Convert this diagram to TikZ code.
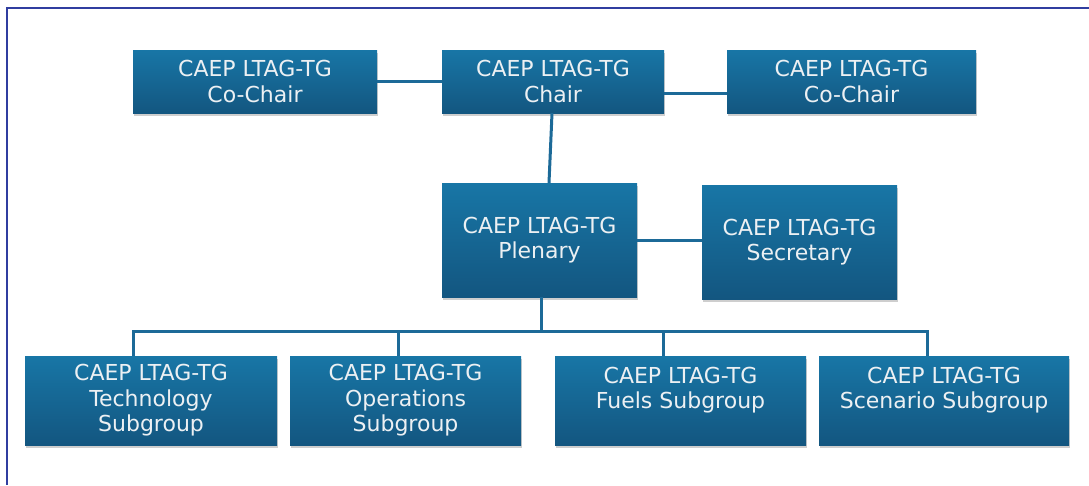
\documentclass[tikz,border=0pt]{standalone}
\usepackage{fontspec}
\setmainfont{DejaVu Sans}
\usepackage{tikz}
\usetikzlibrary{positioning}
\usetikzlibrary{shadows}
\definecolor{boxtop}{RGB}{24,118,166}
\definecolor{boxbottom}{RGB}{19,86,128}
\definecolor{boxtext}{RGB}{236,240,243}
\definecolor{linkcol}{RGB}{28,106,152}
\definecolor{framecol}{RGB}{48,62,160}
\tikzset{unit/.style = {rectangle, top color=boxtop, bottom color=boxbottom,
                        text=boxtext, align=center, inner sep=0pt,
                        font=\fontsize{22}{25.5}\selectfont,
                        drop shadow={shadow xshift=1pt, shadow yshift=-2.5pt,
                                     opacity=0.35, fill=black!55}},
         link/.style = {draw=linkcol, line width=3pt}}

\begin{document}
\begin{tikzpicture}[x=1pt, y=-1pt]
      \useasboundingbox (0, 0) rectangle (1089, 485);
      \draw [framecol, line width=2pt] (6.5, 485) -- (6.5, 7.5) -- (1089, 7.5);
      % top row
      \node [unit, minimum width=244pt, minimum height=63pt] (cochairL) at (255, 81.5) {CAEP LTAG-TG\\Co-Chair};
      \node [unit, minimum width=222pt, minimum height=63pt] (chair) at (553, 81.5) {CAEP LTAG-TG\\Chair};
      \node [unit, minimum width=249pt, minimum height=63pt] (cochairR) at (851.5, 81.5) {CAEP LTAG-TG\\Co-Chair};
      % middle row
      \node [unit, minimum width=195pt, minimum height=114pt] (plenary) at (539.5, 240) {CAEP LTAG-TG\\Plenary};
      \node [unit, minimum width=195pt, minimum height=114pt] (secretary) at (799.5, 242) {CAEP LTAG-TG\\Secretary};
      % subgroups
      \node [unit, minimum width=252pt, minimum height=89pt] (tech) at (151, 400.5) {CAEP LTAG-TG\\Technology\\Subgroup};
      \node [unit, minimum width=231pt, minimum height=89pt] (ops) at (405.5, 400.5) {CAEP LTAG-TG\\Operations\\Subgroup};
      \node [unit, minimum width=251pt, minimum height=89pt] (fuels) at (680.5, 400.5) {CAEP LTAG-TG\\Fuels Subgroup\\~};
      \node [unit, minimum width=250pt, minimum height=89pt] (scenario) at (944, 400.5) {CAEP LTAG-TG\\Scenario Subgroup\\~};
      % connectors
      \draw [link] (cochairL.east) -- (chair.west);
      \draw [link] (chair.east |- 0, 93) -- (cochairR.west |- 0, 93);
      \draw [link] ([xshift=-1pt]chair.south) -- ([xshift=9.5pt]plenary.north);
      \draw [link] (plenary.east) -- (plenary.east -| secretary.west);
      \coordinate (bus) at (541, 331);
      \coordinate (d1) at ([xshift=-18pt]tech.north);
      \coordinate (d2) at ([xshift=-7.5pt]ops.north);
      \coordinate (d3) at ([xshift=-17.5pt]fuels.north);
      \coordinate (d4) at ([xshift=-17pt]scenario.north);
      \draw [link] ([xshift=1.5pt]plenary.south) -- (bus);
      \draw [link] (d1) |- (bus) -| (d4);
      \draw [link] (d2) -- (d2 |- bus);
      \draw [link] (d3) -- (d3 |- bus);
    \end{tikzpicture}
\end{document}
